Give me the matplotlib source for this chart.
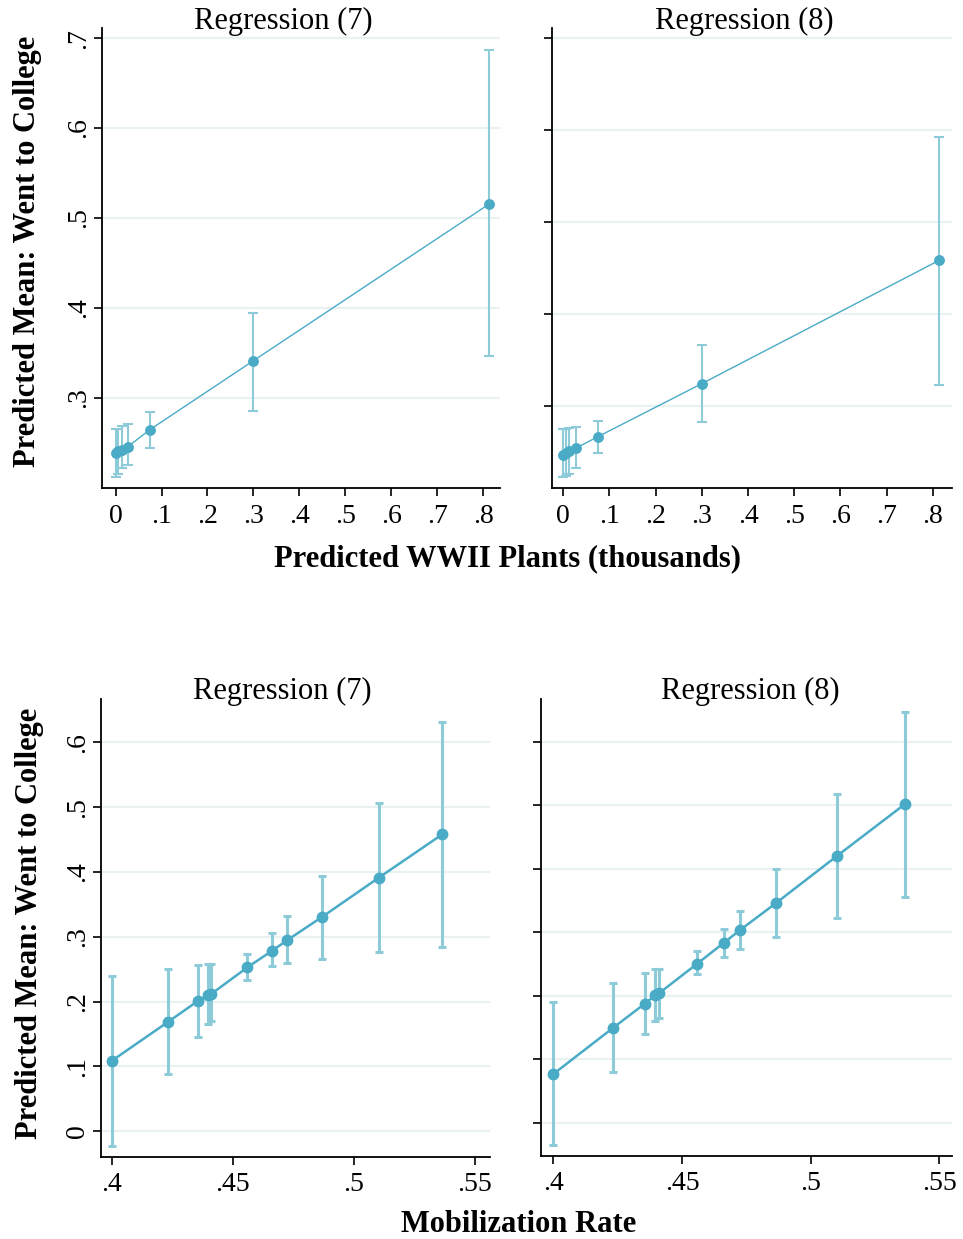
import numpy as np
import matplotlib
matplotlib.use("Agg")
import matplotlib.pyplot as plt

plt.rcParams['font.family'] = ['Liberation Serif', 'DejaVu Serif']

# predicted WWII plants (thousands) -> predicted mean, 95% CI
plants_x = [0.0, 0.006, 0.013, 0.027, 0.075, 0.3, 0.814]
plants_y7 = [0.2386, 0.240, 0.242, 0.2455, 0.2644, 0.341, 0.5156]
plants_lo7 = [0.212, 0.2147, 0.2214, 0.225, 0.2435, 0.2855, 0.3466]
plants_hi7 = [0.2652, 0.2655, 0.268, 0.2708, 0.2838, 0.3944, 0.687]
plants_y8 = [0.2465, 0.2485, 0.251, 0.2536, 0.2662, 0.324, 0.4583]
plants_lo8 = [0.2227, 0.2235, 0.2253, 0.2325, 0.2488, 0.2822, 0.3225]
plants_hi8 = [0.2746, 0.2748, 0.2752, 0.2765, 0.2833, 0.366, 0.5929]

# mobilization rate -> predicted mean, 95% CI
mob_x = [0.400, 0.4233, 0.4355, 0.4397, 0.4410, 0.4560, 0.4662, 0.4725, 0.4866, 0.5102, 0.5365]
mob_y7 = [0.1086, 0.1688, 0.2008, 0.2095, 0.2116, 0.2528, 0.2784, 0.2949, 0.330, 0.391, 0.4581]
mob_lo7 = [-0.0228, 0.0881, 0.1452, 0.1653, 0.1704, 0.2332, 0.2548, 0.2599, 0.265, 0.2763, 0.2845]
mob_hi7 = [0.2398, 0.2497, 0.2563, 0.2579, 0.2579, 0.2733, 0.3052, 0.3319, 0.3936, 0.5068, 0.6318]
mob_y8 = [0.077, 0.150, 0.1876, 0.2013, 0.204, 0.251, 0.2835, 0.3035, 0.3464, 0.4203, 0.5016]
mob_lo8 = [-0.035, 0.0797, 0.140, 0.161, 0.166, 0.2338, 0.262, 0.2736, 0.2935, 0.3228, 0.3558]
mob_hi8 = [0.190, 0.2196, 0.2354, 0.243, 0.243, 0.2704, 0.306, 0.333, 0.4005, 0.5184, 0.6467]

plants_ticks = [0, 0.1, 0.2, 0.3, 0.4, 0.5, 0.6, 0.7, 0.8]
plants_ticklabels = ["0", ".1", ".2", ".3", ".4", ".5", ".6", ".7", ".8"]
plants_yticks = [0.3, 0.4, 0.5, 0.6, 0.7]
plants_yticklabels = [".3", ".4", ".5", ".6", ".7"]
mob_ticks = [0.4, 0.45, 0.5, 0.55]
mob_ticklabels = [".4", ".45", ".5", ".55"]
mob_yticks = [0, 0.1, 0.2, 0.3, 0.4, 0.5, 0.6]
mob_yticklabels = ["0", ".1", ".2", ".3", ".4", ".5", ".6"]

LINE = "#4aabc6"
ERR = "#8ecbd9"
GRID = "#eaf1f3"
W, H = 963, 1239

fig = plt.figure(figsize=(W / 100, H / 100), dpi=100)


def px_axes(l, t, r, b):
    return fig.add_axes([l / W, 1 - b / H, (r - l) / W, (b - t) / H])


def draw_panel(ax, x, y, lo, hi, xlim, ylim, xticks, xlabels, yticks, ylabels, thick):
    y = np.array(y)
    lo = np.array(lo)
    hi = np.array(hi)
    if thick:
        lw, elw, ms, cap = 1.8, 2.2, 7.5, 3.0
    else:
        lw, elw, ms, cap = 1.0, 1.5, 6.8, 3.3
    for t in yticks:
        ax.axhline(t, color=GRID, lw=1.6, zorder=0)
    ax.errorbar(x, y, yerr=[y - lo, hi - y], fmt='none', ecolor=ERR,
                elinewidth=elw, capsize=cap, capthick=elw, zorder=2)
    ax.plot(x, y, '-o', color=LINE, lw=lw, ms=ms, zorder=3)
    ax.set_xlim(xlim)
    ax.set_ylim(ylim)
    ax.set_xticks(xticks)
    ax.set_xticklabels(xlabels)
    ax.set_yticks(yticks)
    if ylabels is None:
        ax.set_yticklabels([])
    else:
        ax.set_yticklabels(ylabels, rotation=90, va='center')
    for s in ['top', 'right']:
        ax.spines[s].set_visible(False)
    for s in ['left', 'bottom']:
        ax.spines[s].set_linewidth(1.3)
    ax.tick_params(axis='x', length=6, width=1.2, labelsize=20, pad=5)
    ax.tick_params(axis='y', length=6, width=1.2, labelsize=20, pad=2)
    ax.set_facecolor('white')


ax1 = px_axes(102.3, 28.3, 500, 488.3)
draw_panel(ax1, plants_x, plants_y7, plants_lo7, plants_hi7, (-0.029, 0.837), (0.199, 0.711),
           plants_ticks, plants_ticklabels, plants_yticks, plants_yticklabels, False)
ax2 = px_axes(551.7, 28.3, 951.7, 488.3)
draw_panel(ax2, plants_x, plants_y8, plants_lo8, plants_hi8, (-0.025, 0.841), (0.21, 0.711),
           plants_ticks, plants_ticklabels, plants_yticks, None, False)
ax3 = px_axes(101, 699, 490, 1157)
draw_panel(ax3, mob_x, mob_y7, mob_lo7, mob_hi7, (0.3955, 0.5562), (-0.04, 0.667),
           mob_ticks, mob_ticklabels, mob_yticks, mob_yticklabels, True)
ax4 = px_axes(540.7, 699.3, 951.7, 1156)
draw_panel(ax4, mob_x, mob_y8, mob_lo8, mob_hi8, (0.3951, 0.5548), (-0.052, 0.667),
           mob_ticks, mob_ticklabels, mob_yticks, None, True)

# titles and axis titles
fig.text(283.5 / W, 1 - 21 / H, "Regression (7)", ha='center', va='center', fontsize=22)
fig.text(744 / W, 1 - 21 / H, "Regression (8)", ha='center', va='center', fontsize=22)
fig.text(282 / W, 1 - 691 / H, "Regression (7)", ha='center', va='center', fontsize=22)
fig.text(750 / W, 1 - 691 / H, "Regression (8)", ha='center', va='center', fontsize=22)

fig.text(507 / W, 1 - 559 / H, "Predicted WWII Plants (thousands)", ha='center', va='center',
         fontsize=22, fontweight='bold')
fig.text(519 / W, 1 - 1224 / H, "Mobilization Rate", ha='center', va='center',
         fontsize=22, fontweight='bold')
fig.text(28 / W, 1 - 251.5 / H, "Predicted Mean: Went to College", ha='center', va='center',
         rotation=90, fontsize=22, fontweight='bold')
fig.text(30 / W, 1 - 923 / H, "Predicted Mean: Went to College", ha='center', va='center',
         rotation=90, fontsize=22, fontweight='bold')

fig.savefig("out.png", dpi=100, facecolor='white')
